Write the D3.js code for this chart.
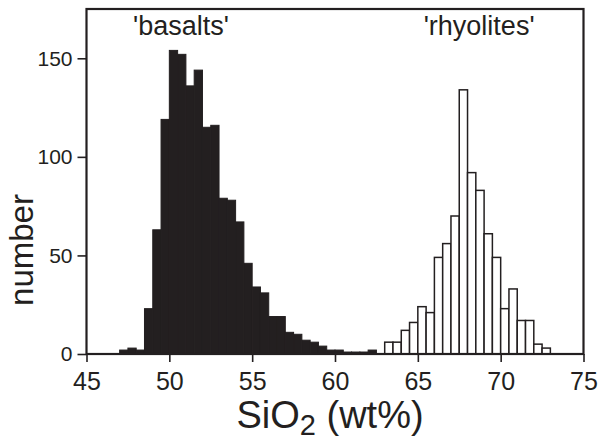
<!DOCTYPE html>
<html>
<head>
<meta charset="utf-8">
<script src="https://cdn.jsdelivr.net/npm/d3@7"></script>
<style>
  body { margin: 0; background: #fff; }
  svg { display: block; }
  text { font-family: "Liberation Sans", Arial, Helvetica, sans-serif; fill: #231f20; }
</style>
</head>
<body>
<svg id="chart" width="600" height="444"></svg>
<script>
// histogram bins are 0.5 wt% wide, lower edges listed below
let binWidth = 0.5

let basaltBins = [47, 47.5, 48, 48.5, 49, 49.5, 50, 50.5, 51, 51.5, 52, 52.5, 53, 53.5, 54, 54.5,
                  55, 55.5, 56, 56.5, 57, 57.5, 58, 58.5, 59, 59.5, 60, 60.5, 61, 61.5, 62]
let basaltCounts = [2, 3, 2, 23, 63, 119, 154, 152, 136, 144, 115, 116, 79, 78, 67, 46,
                    34, 31, 19, 19, 11, 10, 7, 6, 4, 2, 2, 1, 1, 1, 2]

let rhyoliteBins = [63, 63.5, 64, 64.5, 65, 65.5, 66, 66.5, 67, 67.5, 68, 68.5, 69, 69.5,
                    70, 70.5, 71, 71.5, 72, 72.5]
let rhyoliteCounts = [6, 6, 12, 16, 24, 21, 49, 56, 70, 134, 92, 83, 61, 49,
                      23, 33, 17, 17, 5, 3]

let xTicks = [45, 50, 55, 60, 65, 70, 75]
let yTicks = [0, 50, 100, 150]

let ink = '#231f20'

let svg = d3.select('#chart')

let plotLeft = 86.5, plotRight = 583.5, plotTop = 9, plotBottom = 354

let xScale = d3.scaleLinear().domain([45, 75]).range([plotLeft, plotRight])
let yScale = d3.scaleLinear().domain([0, 175]).range([plotBottom, plotTop])

let basalts = basaltBins.map((b, i) => ({ lo: b, n: basaltCounts[i] }))
let rhyolites = rhyoliteBins.map((b, i) => ({ lo: b, n: rhyoliteCounts[i] }))

// black bars (basalts)
svg.append('g')
    .selectAll('rect')
    .data(basalts)
    .enter()
    .append('rect')
    .attr('x', (d) => xScale(d.lo))
    .attr('y', (d) => yScale(d.n))
    .attr('width', (d) => xScale(d.lo + binWidth) - xScale(d.lo))
    .attr('height', (d) => yScale(0) - yScale(d.n))
    .attr('fill', ink)
    .attr('stroke', ink)
    .attr('stroke-width', 1)

// open bars (rhyolites)
svg.append('g')
    .selectAll('rect')
    .data(rhyolites)
    .enter()
    .append('rect')
    .attr('x', (d) => xScale(d.lo))
    .attr('y', (d) => yScale(d.n))
    .attr('width', (d) => xScale(d.lo + binWidth) - xScale(d.lo))
    .attr('height', (d) => yScale(0) - yScale(d.n))
    .attr('fill', '#fff')
    .attr('stroke', ink)
    .attr('stroke-width', 1.5)

// frame
svg.append('rect')
    .attr('x', plotLeft)
    .attr('y', plotTop)
    .attr('width', plotRight - plotLeft)
    .attr('height', plotBottom - plotTop)
    .attr('fill', 'none')
    .attr('stroke', ink)
    .attr('stroke-width', 2.2)

// axes
let xAxis = svg.append('g')
    .attr('transform', 'translate(0,' + plotBottom + ')')
    .call(d3.axisBottom(xScale).tickValues(xTicks).tickSize(8).tickPadding(10).tickFormat(d3.format('d')))
xAxis.select('.domain').remove()
xAxis.selectAll('line').attr('stroke', ink).attr('stroke-width', 1.6)
xAxis.selectAll('text').attr('font-size', 25).attr('fill', ink)

let yAxis = svg.append('g')
    .attr('transform', 'translate(' + plotLeft + ',0)')
    .call(d3.axisLeft(yScale).tickValues(yTicks).tickSize(9).tickPadding(5))
yAxis.select('.domain').remove()
yAxis.selectAll('line').attr('stroke', ink).attr('stroke-width', 1.6)
yAxis.selectAll('text').attr('font-size', 21).attr('fill', ink)

// axis titles
let xTitle = svg.append('text')
    .attr('x', 330)
    .attr('y', 428)
    .attr('text-anchor', 'middle')
    .attr('font-size', 38)
xTitle.append('tspan').text('SiO')
xTitle.append('tspan').text('2').attr('font-size', 29).attr('dy', 7)
xTitle.append('tspan').text(' (wt%)').attr('dy', -7)

svg.append('text')
    .attr('transform', 'translate(33,250) rotate(-90)')
    .attr('text-anchor', 'middle')
    .attr('font-size', 33)
    .text('number')

// group labels
svg.append('text')
    .attr('x', xScale(50.7))
    .attr('y', 35)
    .attr('text-anchor', 'middle')
    .attr('font-size', 27)
    .text("'basalts'")

svg.append('text')
    .attr('x', xScale(68.7))
    .attr('y', 35)
    .attr('text-anchor', 'middle')
    .attr('font-size', 27)
    .text("'rhyolites'")
</script>
</body>
</html>
